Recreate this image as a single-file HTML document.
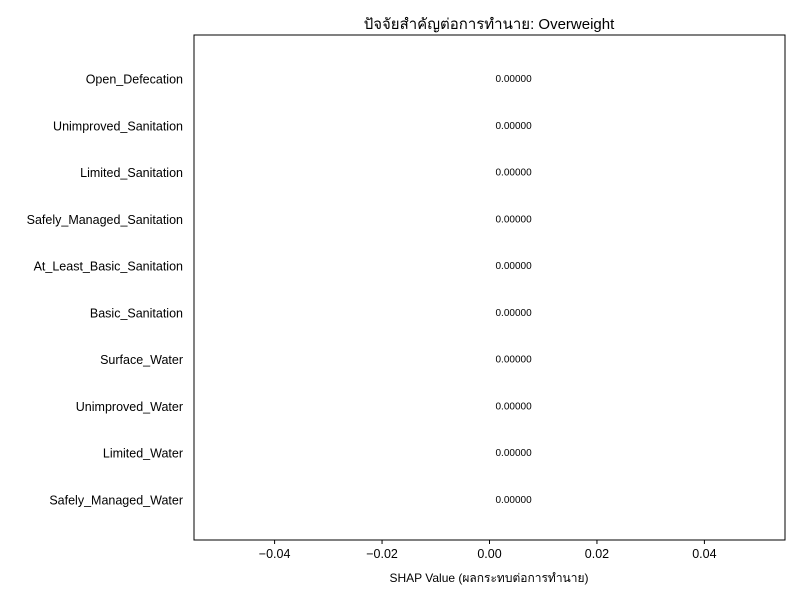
<!DOCTYPE html>
<html><head><meta charset="utf-8"><style>
body{margin:0;background:#fff;}
svg text{font-family:"Liberation Sans","DejaVu Sans",sans-serif;}
</style></head><body>
<svg id="chart" width="800" height="600" xmlns="http://www.w3.org/2000/svg">
<rect width="800" height="600" fill="#fff"/>
<text x="489" y="29" text-anchor="middle" font-size="15" fill="#000">ปัจจัยสำคัญต่อการทำนาย: Overweight</text>
<g id="plot"></g>
<rect x="194" y="35" width="591" height="505" fill="none" stroke="#000" stroke-width="1"/>
<text x="489" y="582" text-anchor="middle" font-size="12" fill="#000">SHAP Value (ผลกระทบต่อการทำนาย)</text>
</svg>
<script>
const categories = ["Open_Defecation","Unimproved_Sanitation","Limited_Sanitation","Safely_Managed_Sanitation","At_Least_Basic_Sanitation","Basic_Sanitation","Surface_Water","Unimproved_Water","Limited_Water","Safely_Managed_Water"];
const shapValues = [0,0,0,0,0,0,0,0,0,0];
const valueLabels = ["0.00000","0.00000","0.00000","0.00000","0.00000","0.00000","0.00000","0.00000","0.00000","0.00000"];
const xTicks = [-0.04,-0.02,0,0.02,0.04];
const xTickLabels = ["\u22120.04","\u22120.02","0.00","0.02","0.04"];

const L=194,R=785,T=35,B=540,xmin=-0.055,xmax=0.055;
const x=v=>L+(v-xmin)/(xmax-xmin)*(R-L);
const step=(B-T)/(categories.length+0.8);
const y=i=>T+step*0.9+i*step+2;
const ns="http://www.w3.org/2000/svg";
const g=document.getElementById('plot');
function mk(tag,attrs,txt){const e=document.createElementNS(ns,tag);for(const k in attrs)e.setAttribute(k,attrs[k]);if(txt!==undefined)e.textContent=txt;g.appendChild(e);return e;}
categories.forEach((c,i)=>{
  const yy=y(i);
  const v=shapValues[i];
  const bar=mk('rect',{x:Math.min(x(0),x(v)),y:yy-step*0.35,width:Math.abs(x(v)-x(0)),height:step*0.7,fill:v>=0?'#ff0051':'#008bfb'});
  
  
  const lb=mk('text',{x:L-11,y:yy+4.5,'text-anchor':'end','font-size':12.5,fill:'#000'},c);
  
  
  const vl=mk('text',{x:x(v)+6,y:yy+3,'font-size':10,fill:'#000'},valueLabels[i]);
  
  
});
xTicks.forEach((t,i)=>{
  const xx=x(t);
  const tk=mk('line',{x1:xx,x2:xx,y1:B,y2:B+4,stroke:'#000'});
  
  
  const lb=mk('text',{x:xx,y:B+18,'text-anchor':'middle','font-size':12.5,fill:'#000'},xTickLabels[i]);
  
  
});
</script>
</body></html>
